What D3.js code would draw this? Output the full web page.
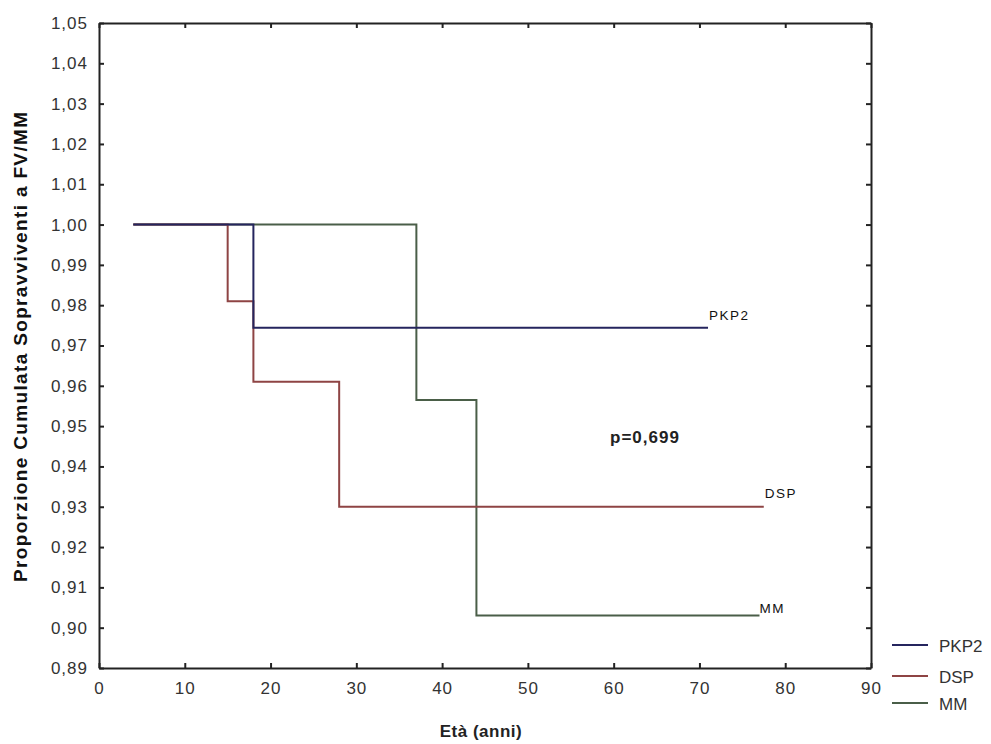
<!DOCTYPE html>
<html>
<head>
<meta charset="utf-8">
<script src="https://cdn.jsdelivr.net/npm/d3@7"></script>
<style>
  body { margin: 0; background: #fff; }
  text { font-family: "Liberation Sans", Arial, sans-serif; }
</style>
</head>
<body>
<div id="chart"></div>
<script>
// Kaplan-Meier curves (step after)
var groups = ["PKP2", "DSP", "MM"];
var colors = ["#25255e", "#8e4444", "#4a5e48"];
var pkp2Time = [4, 18, 71];
var pkp2Surv = [1.00, 0.9744, 0.9744];
var dspTime = [4, 15, 18, 28, 77.5];
var dspSurv = [1.00, 0.981, 0.961, 0.930, 0.930];
var mmTime = [4, 37, 44, 77];
var mmSurv = [1.00, 0.9565, 0.903, 0.903];
var xTicks = [0, 10, 20, 30, 40, 50, 60, 70, 80, 90];
var yTicks = [0.89, 0.90, 0.91, 0.92, 0.93, 0.94, 0.95, 0.96, 0.97, 0.98, 0.99, 1.00, 1.01, 1.02, 1.03, 1.04, 1.05];

var svgWidth = 991, svgHeight = 744;
var margin = {top: 23, right: 120, bottom: 76, left: 99};
var width = svgWidth - margin.left - margin.right;
var height = svgHeight - margin.top - margin.bottom;

var svg = d3.select("#chart").append("svg")
  .attr("width", svgWidth)
  .attr("height", svgHeight);

var chartGroup = svg.append("g")
  .attr("transform", `translate(${margin.left}, ${margin.top})`);

var x = d3.scaleLinear().domain([0, 90]).range([0, width]);
var y = d3.scaleLinear().domain([0.89, 1.05]).range([height, 0]);

var fmt = function(d) { return d3.format(".2f")(d).replace(".", ","); };

// axes with inner ticks on all sides
var bottomAxis = d3.axisBottom(x).tickValues(xTicks).tickSizeInner(-5).tickSizeOuter(0).tickPadding(14);
var leftAxis = d3.axisLeft(y).tickValues(yTicks).tickSizeInner(-5).tickSizeOuter(0).tickPadding(11).tickFormat(fmt);
var topAxis = d3.axisTop(x).tickValues(xTicks).tickSizeInner(-5).tickSizeOuter(0).tickFormat("");
var rightAxis = d3.axisRight(y).tickValues(yTicks).tickSizeInner(-5).tickSizeOuter(0).tickFormat("");

var gx = chartGroup.append("g").attr("transform", `translate(0, ${height})`).call(bottomAxis);
var gy = chartGroup.append("g").call(leftAxis);
var gt = chartGroup.append("g").call(topAxis);
var gr = chartGroup.append("g").attr("transform", `translate(${width}, 0)`).call(rightAxis);

[gx, gy, gt, gr].forEach(function(g) {
  g.select(".domain").attr("stroke", "#222").attr("stroke-width", 2);
  g.selectAll(".tick line").attr("stroke", "#222").attr("stroke-width", 2);
  g.selectAll(".tick text")
    .attr("fill", "#333")
    .style("font-size", "17px")
    .style("letter-spacing", "1px")
    .style("font-family", "'Liberation Sans', Arial, sans-serif");
});

// curves
var series = [
  {name: groups[0], time: pkp2Time, surv: pkp2Surv},
  {name: groups[1], time: dspTime, surv: dspSurv},
  {name: groups[2], time: mmTime, surv: mmSurv}
];

var line = d3.line()
  .x(d => x(d[0]))
  .y(d => y(d[1]))
  .curve(d3.curveStepAfter);

series.slice().reverse().forEach(function(s) {
  var i = groups.indexOf(s.name);
  chartGroup.append("path")
    .datum(d3.zip(s.time, s.surv))
    .attr("fill", "none")
    .attr("stroke", colors[i])
    .attr("stroke-width", 2)
    .attr("d", line);
});

// end labels
var labelOffset = {PKP2: [1, -8], DSP: [1, -9], MM: [0, -3]};
series.forEach(function(s) {
  var n = s.time.length - 1;
  chartGroup.append("text")
    .attr("x", x(s.time[n]) + labelOffset[s.name][0])
    .attr("y", y(s.surv[n]) + labelOffset[s.name][1])
    .style("font-size", "13.5px")
    .style("letter-spacing", "1.5px")
    .attr("fill", "#111")
    .text(s.name);
});

// p value
chartGroup.append("text")
  .attr("x", 511)
  .attr("y", 420)
  .style("font-size", "17px")
  .style("font-weight", "bold")
  .style("letter-spacing", "1px")
  .attr("fill", "#222")
  .text("p=0,699");

// axis titles
svg.append("text")
  .attr("transform", "rotate(-90)")
  .attr("x", -347)
  .attr("y", 27)
  .attr("text-anchor", "middle")
  .attr("textLength", 470)
  .attr("lengthAdjust", "spacing")
  .style("font-size", "19px")
  .style("font-weight", "bold")
  .attr("fill", "#111")
  .text("Proporzione Cumulata Sopravviventi a FV/MM");

svg.append("text")
  .attr("x", 481)
  .attr("y", 737)
  .attr("text-anchor", "middle")
  .style("font-size", "17px")
  .style("font-weight", "bold")
  .style("letter-spacing", "0.5px")
  .attr("fill", "#222")
  .text("Età (anni)");

// legend
var legendY = [645, 676, 703];
var legend = svg.append("g");
groups.forEach(function(g, i) {
  legend.append("line")
    .attr("x1", 892).attr("x2", 928)
    .attr("y1", legendY[i]).attr("y2", legendY[i])
    .attr("stroke", colors[i])
    .attr("stroke-width", 2);
  legend.append("text")
    .attr("x", 939)
    .attr("y", legendY[i] + 7)
    .style("font-size", "17px")
    .attr("fill", "#333")
    .text(g);
});
</script>
</body>
</html>
